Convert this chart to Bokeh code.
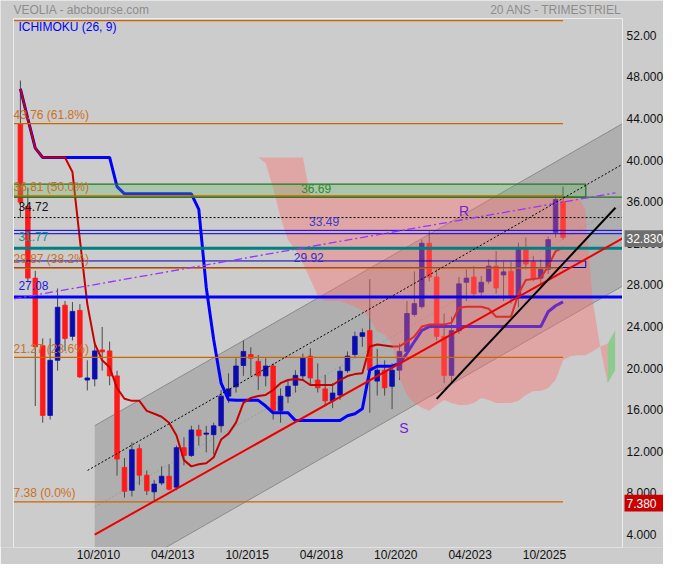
from bokeh.plotting import figure
from bokeh.models import Range1d, FixedTicker, Label
from bokeh.embed import file_html
from bokeh.resources import INLINE
from bokeh.core.properties import value

# ---------------- data (quarterly candles, index 0 = first quarter shown) ----------------
opens = [43.76, 35.8, 28.9, 22.4, 15.7, 21.0, 26.3, 23.3, 25.8, 19.1,
         19.2, 22.0, 21.9, 19.5, 10.7, 8.5, 12.5, 9.95, 8.35, 9.2,
         9.85, 8.8, 12.6, 11.85, 14.3, 13.9, 13.85, 14.7, 17.55, 18.45,
         20.5, 21.55, 20.9, 19.5, 20.45, 16.15, 17.55, 18.6, 19.5, 21.4,
         19.1, 18.25, 17.1, 17.65, 20.0, 21.55, 23.3, 23.85, 19.0, 20.05,
         18.5, 20.05, 21.85, 25.4, 26.15, 32.25, 29.0, 23.3, 19.55, 23.85,
         28.5, 29.0, 27.55, 28.6, 30.05, 29.2, 29.55, 27.1, 31.65, 30.45,
         28.9, 29.75, 33.3, 36.25]
highs = [47.9, 37.6, 29.6, 23.1, 23.1, 27.9, 26.7, 26.6, 26.4, 21.0,
         22.8, 24.2, 22.8, 20.0, 11.6, 13.1, 12.9, 10.4, 9.5, 10.8,
         11.0, 12.8, 13.6, 14.7, 14.8, 14.7, 15.0, 18.15, 19.75, 21.2,
         22.9, 22.25, 21.5, 21.2, 20.7, 18.3, 19.1, 20.05, 21.65, 22.15,
         20.7, 19.6, 18.8, 20.4, 21.85, 23.75, 24.05, 28.8, 22.1, 21.0,
         20.7, 22.6, 26.7, 29.55, 32.6, 33.4, 29.75, 25.5, 25.2, 29.0,
         29.75, 30.05, 29.1, 30.7, 31.5, 30.5, 30.5, 32.3, 32.8, 31.0,
         30.7, 32.9, 36.9, 37.7]
lows = [34.7, 28.5, 16.6, 15.0, 15.3, 20.0, 21.9, 22.9, 19.3, 18.1,
        18.5, 20.0, 18.6, 9.9, 7.8, 7.9, 9.0, 8.05, 7.38, 9.0,
        8.5, 8.5, 10.9, 11.7, 12.8, 12.15, 11.95, 14.05, 16.9, 17.9,
        19.5, 19.5, 18.15, 18.5, 15.3, 15.0, 16.9, 17.9, 19.0, 18.6,
        17.9, 16.7, 16.4, 17.2, 19.8, 21.2, 22.3, 15.95, 17.6, 17.6,
        16.3, 19.1, 21.65, 25.2, 25.95, 28.6, 22.9, 18.8, 18.8, 23.55,
        26.7, 27.1, 27.2, 28.35, 27.4, 26.7, 26.45, 26.1, 29.75, 28.6,
        28.3, 29.3, 32.8, 32.6]
closes = [36.2, 28.9, 22.3, 15.7, 21.0, 26.1, 23.1, 25.7, 19.4, 19.3,
          21.9, 21.8, 19.5, 11.5, 8.4, 12.4, 9.95, 8.45, 9.1, 9.85,
          8.6, 12.6, 11.85, 14.3, 13.75, 14.0, 14.7, 17.55, 18.25, 20.45,
          21.85, 21.2, 19.5, 20.45, 16.15, 17.55, 18.5, 19.55, 21.2, 19.3,
          18.35, 17.1, 17.85, 19.95, 21.4, 23.3, 23.65, 20.05, 20.05, 18.35,
          20.05, 21.85, 25.5, 26.45, 32.25, 29.0, 23.3, 19.55, 23.85, 28.35,
          28.9, 27.4, 28.5, 30.05, 27.95, 29.5, 27.1, 31.65, 30.25, 28.9,
          29.75, 32.6, 36.45, 32.83]

tenkan = [47.1, 44.2, 41.4, 40.5, 40.5, 40.5, 40.5, 39.1, 32.6, 26.4,
          22.6, 21.0, 20.33, 18.33, 17.3, 17.1, 17.1, 16.14, 15.86, 15.57,
          15.0, 13.76, 11.4, 10.8, 11.0, 11.1, 11.67, 13.38, 13.95, 15.0,
          16.9, 17.38, 17.57, 17.67, 18.14, 18.8, 19.1, 19.2, 19.1, 18.62,
          18.62, 18.62, 18.62, 19.1, 19.48, 19.67, 19.76, 22.33, 22.52, 22.43,
          22.33, 22.33, 22.8, 23.29, 24.24, 24.43, 24.43, 24.43, 24.62, 26.05,
          26.14, 26.14, 26.14, 25.95, 25.19, 25.19, 25.19, 27.38, 28.71, 28.81,
          28.9, 30.05, 31.48, 31.86]
kijun = [47.1, 44.2, 41.4, 40.5, 40.5, 40.5, 40.5, 40.5, 40.5, 40.5,
         40.5, 40.5, 40.5, 37.7, 37.0, 37.0, 37.0, 37.0, 37.0, 37.0,
         37.0, 37.0, 37.0, 37.0, 35.5, 28.0, 23.0, 18.8, 17.2, 17.15,
         17.15, 17.15, 17.15, 16.6, 15.95, 15.95, 15.95, 15.2, 15.2, 15.2,
         15.2, 15.2, 15.2, 15.2, 15.67, 15.86, 16.33, 20.05, 20.43, 20.43,
         20.43, 20.7, 21.67, 22.8, 23.86, 24.24, 24.24, 24.24, 24.24, 24.24,
         24.24, 24.24, 24.24, 24.24, 24.24, 24.24, 24.24, 24.24, 24.24, 24.24,
         24.24, 25.67, 26.24, 26.62]

cloud_first = 32   # index of first cloud value
senkou_a = [40.5, 39.95, 37.57, 34.7, 32.6, 31.57, 30.33, 28.8, 27.2, 26.71,
            26.71, 26.71, 26.43, 26.14, 25.76, 25.0, 23.76, 23.48, 22.6, 19.3,
            17.67, 16.9, 16.43, 16.14, 16.71, 17.19, 16.9, 16.71, 16.71, 16.9,
            17.38, 17.19, 16.9, 16.9, 16.9, 17.1, 17.67, 18.05, 18.05, 18.33,
            19.1, 21.0, 21.38, 21.48, 21.48, 21.86, 22.33, 22.6, 23.86]
senkou_b = [40.5, 40.5, 40.5, 40.5, 40.5, 40.5, 40.5, 36.81, 36.81, 36.81,
            36.81, 36.81, 36.81, 36.81, 36.81, 36.81, 36.81, 36.81, 36.81, 36.81,
            36.81, 36.81, 36.81, 36.81, 36.81, 36.81, 36.81, 36.81, 36.81, 36.81,
            36.81, 36.81, 36.81, 36.81, 36.81, 36.81, 36.81, 36.81, 36.81, 36.81,
            36.81, 36.81, 36.81, 36.81, 35.5, 26.7, 22.3, 18.8, 20.05]
green_from = 79    # cloud turns green from this index

fib_levels = [53.65, 43.76, 36.81, 29.87, 21.27, 7.38]
fib_texts = ["", "43.76  (61.8%)", "36.81  (50.0%)", "29.87  (38.2%)", "21.27  (23.6%)", "7.38  (0.0%)"]
fib_end = 73

channel_x = [10, 81]
channel_mid = [6.9, 35.94]
channel_half = 7.81
channel_quarter_start = 9.04

support_x, support_y = [10, 81], [4.24, 32.71]
violet_x, violet_y = [-0.93, 80.05], [26.9, 37.1]
black_x, black_y = [56.0, 80.05], [17.29, 35.67]

zone_green = (36.69, 37.93)
zone_end = 76.06
dotted_level = 34.72
blue_band_top = (33.17, 33.49)
teal_level = 31.77
blue_band_low = (29.92, 30.55)
blue_level = 27.08
last_price = 32.83
low_price = 7.38

x_tick_pos = [10.5, 20.5, 30.5, 40.5, 50.5, 60.5, 70.5]
x_tick_labels = ["10/2010", "04/2013", "10/2015", "04/2018", "10/2020", "04/2023", "10/2025"]
y_tick_values = [4, 8, 12, 16, 20, 24, 28, 32, 36, 40, 44, 48, 52]

# ---------------- layout ----------------
FONT = "Liberation Sans"
BG = "#cccccc"
W, H = 663, 547                 # drawing area (x axis panel below)
X0, X1 = -0.93, 81.0            # inner chart box, data units
Y0, Y1 = 3.0, 53.86
IN_L, IN_R, IN_T = 13, 622, 18  # inner chart box, pixels (bottom = drawing area bottom)
PX = (IN_R - IN_L) / (X1 - X0)
PYU = (H - IN_T) / (Y1 - Y0)
XL = X0 - IN_L / PX
XR = X1 + (W - IN_R) / PX
YT = Y1 + IN_T / PYU

p = figure(frame_width=W, frame_height=H, x_range=Range1d(XL, XR), y_range=Range1d(Y0, YT),
           output_backend="svg", toolbar_location=None, y_axis_location=None, min_border=0)
p.background_fill_color = BG
p.border_fill_color = BG
p.outline_line_color = None
p.xgrid.visible = False
p.ygrid.visible = False

ax = p.xaxis[0]
ax.axis_line_color = None
ax.major_tick_line_color = None
ax.minor_tick_line_color = None
ax.major_tick_out = 0
ax.minor_tick_out = 0
ax.major_tick_in = 0
ax.minor_tick_in = 0
ax.major_label_text_font = FONT
ax.major_label_text_font_size = "12px"
ax.major_label_text_color = "#111111"
ax.ticker = FixedTicker(ticks=x_tick_pos)
ax.major_label_overrides = {t: l for t, l in zip(x_tick_pos, x_tick_labels)}
ax.major_label_standoff = 0

# ---------------- regression channel ----------------
lo = [m - channel_half for m in channel_mid]
hi = [m + channel_half for m in channel_mid]
p.patch(x=channel_x + channel_x[::-1], y=lo + hi[::-1], fill_color="black", fill_alpha=0.14,
        line_color=None)
p.line(channel_x, lo, line_color="#8a8a8a", line_width=1)
p.line(channel_x, hi, line_color="#8a8a8a", line_width=1)
p.line(channel_x, channel_mid, line_color="#9c9c9c", line_width=1, line_dash="2 2")

# ---------------- candles ----------------
idx = list(range(len(closes)))
up = [c >= o for o, c in zip(opens, closes)]
cols = ["#0c0cae" if u else "#ff1a1a" for u in up]
p.segment(x0=idx, y0=lows, x1=idx, y1=highs, line_color="#4a4a4a", line_width=1)
p.vbar(x=idx, width=0.62, top=[max(o, c) for o, c in zip(opens, closes)],
       bottom=[min(o, c) for o, c in zip(opens, closes)], fill_color=cols, line_color=cols,
       line_width=0.8)

# ---------------- ichimoku lines ----------------
p.line(idx, kijun, line_color="#0000ff", line_width=3)
p.line(idx, tenkan, line_color="#c80000", line_width=2)

# ---------------- cloud ----------------
cx = [cloud_first + k for k in range(len(senkou_a))]
g = green_from - cloud_first
p.varea(x=cx[:g + 1], y1=senkou_a[:g + 1], y2=senkou_b[:g + 1], fill_color="#ff6e6e", fill_alpha=0.4)
p.varea(x=cx[g:], y1=senkou_a[g:], y2=senkou_b[g:], fill_color="#4fc84f", fill_alpha=0.5)

# ---------------- horizontal levels ----------------
p.quad(left=X0, right=zone_end, bottom=zone_green[0], top=zone_green[1], fill_color="#5fb85f",
       fill_alpha=0.3, line_color="#1f7a1f", line_width=1.3)
p.line([X0, X1], [zone_green[0]] * 2, line_color="#1f7a1f", line_width=1.3)
p.line([X0, X1], [dotted_level] * 2, line_color="black", line_width=1, line_dash="2 2")
p.quad(left=X0, right=X1, bottom=blue_band_top[0], top=blue_band_top[1], fill_color=None,
       line_color="#0000ee", line_width=1)
p.line([X0, X1], [teal_level] * 2, line_color="#008080", line_width=3)
p.quad(left=X0, right=zone_end, bottom=blue_band_low[0], top=blue_band_low[1], fill_color=None,
       line_color="#0000bb", line_width=1)
p.line([X0, X1], [blue_level] * 2, line_color="#0000ff", line_width=3)
for lv in fib_levels:
    p.line([X0, fib_end], [lv, lv], line_color="#cc6600", line_width=1.3)

# ---------------- trend lines ----------------
p.line(support_x, support_y, line_color="#ee0000", line_width=2)
p.line(violet_x, violet_y, line_color="#9933ff", line_width=1.3, line_dash="8 3 2 3")
qx = [channel_quarter_start, channel_x[1]]
slope = (channel_mid[1] - channel_mid[0]) / (channel_x[1] - channel_x[0])
qy = [channel_mid[0] + slope * (x - channel_x[0]) + channel_half / 2 for x in qx]
p.line(qx, qy, line_color="black", line_width=1, line_dash="2 2")
p.line(black_x, black_y, line_color="black", line_width=2)

# inner chart frame
p.quad(left=X0, right=X1, bottom=Y0, top=Y1, fill_color=None, line_color="#ececec", line_width=1)

# ---------------- right-hand price scale ----------------
y_shift = 0.24   # labels sit slightly above their value in the reference
lab_x = X1 + 4 / PX
p.text(x=[lab_x] * len(y_tick_values), y=[v + y_shift for v in y_tick_values],
       text=[("%.2f" % v if v == 52 else "%.3f" % v) for v in y_tick_values],
       text_font=value(FONT), text_font_size=value("12px"), text_color="#111111",
       text_baseline="middle", text_align="left")

box_l = X1 + 2 / PX
for price, fill in ((last_price, "#6e6e6e"), (low_price, "#c80000")):
    p.quad(left=box_l, right=XR + 1, bottom=price - 0.92, top=price + 0.68, fill_color=fill,
           line_color=None)
    p.text(x=[lab_x], y=[price - 0.12], text=["%.3f" % price], text_font=value(FONT),
           text_font_size=value("12px"), text_color="white", text_baseline="middle",
           text_align="left")

# ---------------- texts ----------------
def lab(x, y, text, color, size="12px", align="left"):
    p.add_layout(Label(x=x, y=y, text=text, text_color=color, text_font=FONT,
                       text_font_size=size, text_align=align, text_baseline="middle"))

lab(X0, YT - 9 / PYU, "VEOLIA - abcbourse.com", "#8c8c8c")
lab(X1 - 1 / PX, YT - 9 / PYU, "20 ANS - TRIMESTRIEL", "#8c8c8c", align="right")
lab(-0.27, Y1 - 8 / PYU, "ICHIMOKU (26, 9)", "#0000ff")
for lv, t in zip(fib_levels, fib_texts):
    if t:
        lab(X0, lv + 0.86, t, "#cc7020")
lab(-0.27, dotted_level + 1.05, "34.72", "#111111")
lab(-0.27, teal_level + 1.1, "31.77", "#109090")
lab(-0.27, blue_level + 1.08, "27.08", "#1a1aee")
lab(37.77, zone_green[0] + 0.86, "36.69", "#2e8b2e")
lab(38.83, blue_band_top[1] + 0.89, "33.49", "#3a3ad0")
lab(36.77, blue_band_low[0] + 0.95, "29.92", "#3030c8")
lab(59.7, 35.38, "R", "#7020d8", size="14px", align="center")
lab(51.6, 14.52, "S", "#7020d8", size="14px", align="center")

open("out.html", "w").write(file_html(p, INLINE))
